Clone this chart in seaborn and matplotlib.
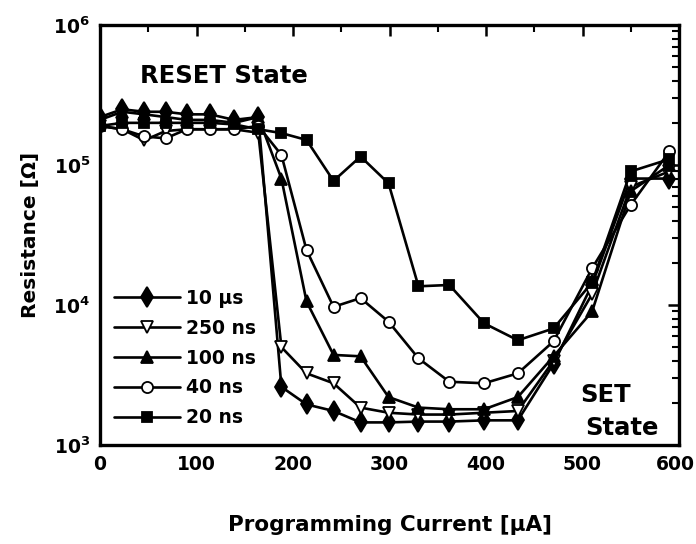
import numpy as np
import pandas as pd
import matplotlib
matplotlib.use("Agg")
import matplotlib.pyplot as plt
import matplotlib.transforms as mtrans
import seaborn as sns
from matplotlib.ticker import LogLocator, MultipleLocator, NullFormatter

# ---------------- data ----------------
current = [0, 23, 46, 68, 90, 114, 139, 164, 188, 214, 242, 270, 299, 330,
           362, 398, 433, 470, 510, 550, 590]

r_10us = [2.2e5, 2.5e5, 2.4e5, 2.4e5, 2.3e5, 2.3e5, 2.1e5, 2.2e5, 2.6e3, 1.95e3,
          1.75e3, 1.45e3, 1.45e3, 1.47e3, 1.47e3, 1.5e3, 1.5e3, 3.8e3, 1.4e4,
          8.0e4, 8.0e4]
r_250ns = [1.9e5, 1.8e5, 1.5e5, 1.75e5, 1.8e5, 1.8e5, 1.8e5, 1.7e5, 5.0e3, 3.25e3,
           2.76e3, 1.85e3, 1.7e3, 1.65e3, 1.65e3, 1.7e3, 1.75e3, 4.0e3, 1.2e4,
           7.0e4, 9.0e4]
r_100ns = [2.1e5, 2.4e5, 2.3e5, 2.2e5, 2.1e5, 2.1e5, 2.0e5, 2.2e5, 8.0e4, 1.06e4,
           4.4e3, 4.3e3, 2.2e3, 1.85e3, 1.8e3, 1.8e3, 2.2e3, 4.3e3, 9.0e3,
           6.5e4, 1.0e5]
r_40ns = [1.9e5, 1.8e5, 1.6e5, 1.55e5, 1.8e5, 1.8e5, 1.8e5, 1.9e5, 1.18e5, 2.47e4,
          9.7e3, 1.12e4, 7.6e3, 4.16e3, 2.83e3, 2.76e3, 3.25e3, 5.5e3, 1.83e4,
          5.2e4, 1.25e5]
r_20ns = [1.9e5, 2.0e5, 2.0e5, 2.0e5, 2.0e5, 2.0e5, 1.95e5, 1.8e5, 1.69e5, 1.51e5,
          7.7e4, 1.15e5, 7.4e4, 1.36e4, 1.39e4, 7.4e3, 5.6e3, 6.8e3, 1.45e4,
          9.0e4, 1.1e5]

series_labels = ["10 µs", "250 ns", "100 ns", "40 ns", "20 ns"]
series_values = [r_10us, r_250ns, r_100ns, r_40ns, r_20ns]
series_markers = ["d", "v", "^", "o", "s"]
series_faces = ["black", "white", "black", "white", "black"]

x_ticks = [0, 100, 200, 300, 400, 500, 600]
y_ticks = [1e3, 1e4, 1e5, 1e6]
y_ticklabels = [r"$\mathbf{10^{3}}$", r"$\mathbf{10^{4}}$",
                r"$\mathbf{10^{5}}$", r"$\mathbf{10^{6}}$"]

# ---------------- style ----------------
sns.set_theme(style="white")
plt.rcParams["font.family"] = ["DejaVu Sans"]
plt.rcParams["font.weight"] = "bold"
plt.rcParams["mathtext.fontset"] = "dejavusans"
plt.rcParams["text.color"] = "black"
plt.rcParams["axes.labelcolor"] = "black"
plt.rcParams["xtick.color"] = "black"
plt.rcParams["ytick.color"] = "black"

fig = plt.figure(figsize=(6.96, 5.44), dpi=100)
ax = fig.add_axes([100 / 696, 1 - 445 / 544, 579 / 696, 420 / 544])

for lab, vals, mk, fc in zip(series_labels, series_values, series_markers, series_faces):
    df = pd.DataFrame({"current": current, "resistance": vals})
    ms = 10 if mk == "d" else 8
    if mk == "s":
        ms = 7.5
    sns.lineplot(data=df, x="current", y="resistance", ax=ax, color="black",
                 marker=mk, markersize=ms, markerfacecolor=fc,
                 markeredgecolor="black", markeredgewidth=1.3,
                 linewidth=1.9, label=lab, sort=False)

ax.set_yscale("log")
ax.set_xlim(0, 600)
ax.set_ylim(1e3, 1e6)
ax.set_xticks(x_ticks)
ax.set_xticklabels([str(v) for v in x_ticks])
ax.xaxis.set_minor_locator(MultipleLocator(50))
ax.set_yticks(y_ticks)
ax.set_yticklabels(y_ticklabels)
ax.yaxis.set_minor_locator(LogLocator(base=10, subs=np.arange(2, 10)))
ax.yaxis.set_minor_formatter(NullFormatter())

ax.tick_params(axis="both", which="major", direction="in", length=8, width=1.8,
               labelsize=13.5, top=True, right=True, pad=7, colors="black")
ax.tick_params(axis="both", which="minor", direction="in", length=5, width=1.5,
               top=True, right=True, colors="black")
for lbl in ax.get_xticklabels() + ax.get_yticklabels():
    lbl.set_fontweight("bold")
    lbl.set_color("black")
# nudge the last x label so it stays inside the canvas
last = ax.get_xticklabels()[-1]
last.set_transform(last.get_transform() + mtrans.ScaledTranslation(-4 / 100, 0, fig.dpi_scale_trans))

for sp in ax.spines.values():
    sp.set_linewidth(2.4)
    sp.set_color("black")

ax.set_xlabel("Programming Current [µA]", fontsize=15.5, fontweight="bold",
              labelpad=30, color="black")
ax.set_ylabel("Resistance [Ω]", fontsize=14.5, fontweight="bold", labelpad=10,
              color="black")

leg = ax.legend(loc="upper left", bbox_to_anchor=(0.025, 0.372), frameon=False,
                fontsize=13.5, handlelength=3.5, handletextpad=0.3,
                labelspacing=0.58, borderpad=0, borderaxespad=0)
for t in leg.get_texts():
    t.set_fontweight("bold")
    t.set_color("black")

fig.text(140 / 696, 1 - 83 / 544, "RESET State", fontsize=17.5, fontweight="bold",
         ha="left", va="baseline", color="black")
fig.text(580 / 696, 1 - 402 / 544, "SET", fontsize=17.5, fontweight="bold",
         ha="left", va="baseline", color="black")
fig.text(585 / 696, 1 - 435 / 544, "State", fontsize=17.5, fontweight="bold",
         ha="left", va="baseline", color="black")

fig.savefig("out.png", dpi=100)
